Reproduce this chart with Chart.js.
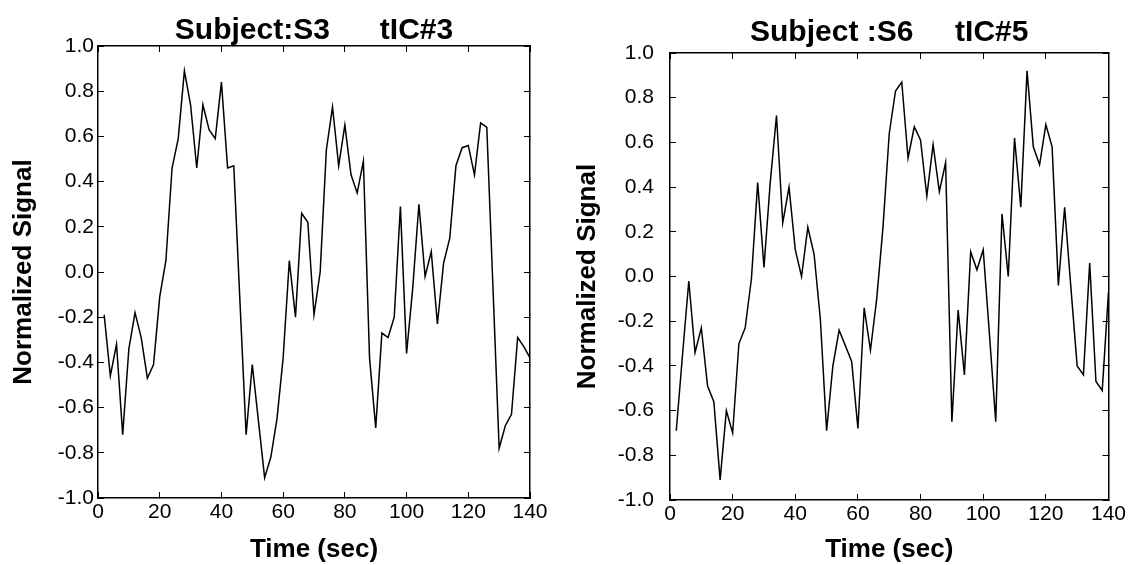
<!DOCTYPE html>
<html>
<head>
<meta charset="utf-8">
<script src="https://cdn.jsdelivr.net/npm/chart.js@4"></script>
<style>
  body { margin: 0; background: #fff; }
  .box { position: absolute; top: 0; height: 565px; }
  #boxOne { left: 0; width: 560px; }
  #boxTwo { left: 560px; width: 574px; }
</style>
</head>
<body>
<div class="box" id="boxOne"><canvas id="signalChartOne"></canvas></div>
<div class="box" id="boxTwo"><canvas id="signalChartTwo"></canvas></div>
<script>
// time axis (sec), one sample every 2 s
const timeSec = [2,4,6,8,10,12,14,16,18,20,22,24,26,28,30,32,34,36,38,40,
  42,44,46,48,50,52,54,56,58,60,62,64,66,68,70,72,74,76,78,80,
  82,84,86,88,90,92,94,96,98,100,102,104,106,108,110,112,114,116,118,120,
  122,124,126,128,130,132,134,136,138,140];

// Subject S3, tIC#3
const s3Signal = [-0.19,-0.46,-0.32,-0.72,-0.34,-0.18,-0.29,-0.47,-0.41,-0.11,
  0.05,0.46,0.59,0.89,0.74,0.46,0.74,0.63,0.59,0.84,
  0.46,0.47,-0.13,-0.72,-0.41,-0.66,-0.91,-0.82,-0.65,-0.38,
  0.05,-0.20,0.26,0.22,-0.19,0.00,0.54,0.73,0.47,0.65,
  0.43,0.35,0.49,-0.38,-0.69,-0.27,-0.29,-0.20,0.29,-0.36,
  -0.07,0.30,-0.02,0.09,-0.23,0.04,0.15,0.47,0.55,0.56,
  0.43,0.66,0.64,-0.07,-0.78,-0.68,-0.63,-0.29,-0.33,-0.38];

// Subject S6, tIC#5
const s6Signal = [-0.69,-0.35,-0.02,-0.34,-0.23,-0.49,-0.56,-0.91,-0.60,-0.70,
  -0.30,-0.23,-0.01,0.42,0.04,0.42,0.72,0.24,0.40,0.12,
  0.00,0.22,0.10,-0.19,-0.69,-0.40,-0.24,-0.31,-0.38,-0.68,
  -0.14,-0.33,-0.10,0.22,0.64,0.83,0.87,0.53,0.67,0.61,
  0.36,0.59,0.38,0.51,-0.65,-0.15,-0.44,0.11,0.03,0.12,
  -0.26,-0.65,0.28,0.00,0.62,0.31,0.92,0.58,0.50,0.68,
  0.58,-0.04,0.31,-0.05,-0.40,-0.44,0.06,-0.47,-0.51,-0.07];

const xTicks = [0, 20, 40, 60, 80, 100, 120, 140];
const yTicks = [-1.0, -0.8, -0.6, -0.4, -0.2, 0.0, 0.2, 0.4, 0.6, 0.8, 1.0];

Chart.defaults.font.family = "'Liberation Sans', Arial, sans-serif";
Chart.defaults.color = '#000';

// top / right axes only draw the frame and its inward ticks
function frameAxis(pos) {
  return {
    type: 'linear',
    position: pos,
    min: pos == 'top' ? xTicks[0] : yTicks[0],
    max: pos == 'top' ? xTicks[xTicks.length - 1] : yTicks[yTicks.length - 1],
    ticks: { display: false },
    afterBuildTicks: function(s) {
      s.ticks = (pos == 'top' ? xTicks : yTicks).map(v => ({ value: v }));
    },
    grid: { drawOnChartArea: false, tickLength: -6, color: '#000', lineWidth: 1 },
    border: { color: '#000', width: 1.5 },
    afterFit: function(s) {
      if (pos == 'top') s.height = 0; else s.width = 0;
    }
  };
}

function drawSignal(id, title, values, pad, yWidth, labelPad, titlePad, plotH) {
  new Chart(document.getElementById(id), {
    type: 'line',
    data: {
      datasets: [{
        data: timeSec.map((t, i) => ({ x: t, y: values[i] })),
        borderColor: '#000',
        borderWidth: 1.5,
        pointRadius: 0,
        fill: false,
        tension: 0
      }]
    },
    options: {
      responsive: true,
      maintainAspectRatio: false,
      animation: false,
      layout: { padding: pad },
      plugins: {
        legend: { display: false },
        tooltip: { enabled: false },
        title: {
          display: true,
          text: title,
          fullSize: false,
          color: '#000',
          font: { size: 30, weight: 'bold', lineHeight: 1.0 },
          padding: titlePad
        }
      },
      scales: {
        x: {
          type: 'linear',
          min: 0,
          max: 140,
          afterBuildTicks: function(s) { s.ticks = xTicks.map(v => ({ value: v })); },
          ticks: { font: { size: 21 }, padding: 8, maxRotation: 0, color: '#000' },
          grid: { drawOnChartArea: false, tickLength: -6, color: '#000' },
          border: { color: '#000', width: 1.5 },
          title: {
            display: true,
            text: 'Time (sec)',
            font: { size: 26, weight: 'bold' },
            padding: 0
          },
          afterFit: function(s) {
            s.height = 565 - pad.top - 30 - titlePad.top - titlePad.bottom - plotH;
          }
        },
        y: {
          type: 'linear',
          min: -1,
          max: 1,
          afterBuildTicks: function(s) { s.ticks = yTicks.map(v => ({ value: v })); },
          ticks: {
            font: { size: 21 },
            padding: labelPad,
            color: '#000',
            callback: v => v.toFixed(1)
          },
          grid: { drawOnChartArea: false, tickLength: -6, color: '#000' },
          border: { color: '#000', width: 1.5 },
          title: {
            display: true,
            text: 'Normalized Signal',
            font: { size: 26, weight: 'bold' },
            padding: 0
          },
          afterFit: function(s) { s.width = yWidth; }
        },
        xTop: frameAxis('top'),
        yRight: frameAxis('right')
      }
    }
  });
}

drawSignal('signalChartOne', 'Subject:S3      tIC#3', s3Signal,
  { left: 8, right: 30, top: 16, bottom: 0 }, 90, 10, { top: 0, bottom: 0 }, 452);
drawSignal('signalChartTwo', 'Subject :S6     tIC#5', s6Signal,
  { left: 12, right: 18, top: 16, bottom: 0 }, 98, 22, { top: 2, bottom: 5 }, 447);
</script>
</body>
</html>
